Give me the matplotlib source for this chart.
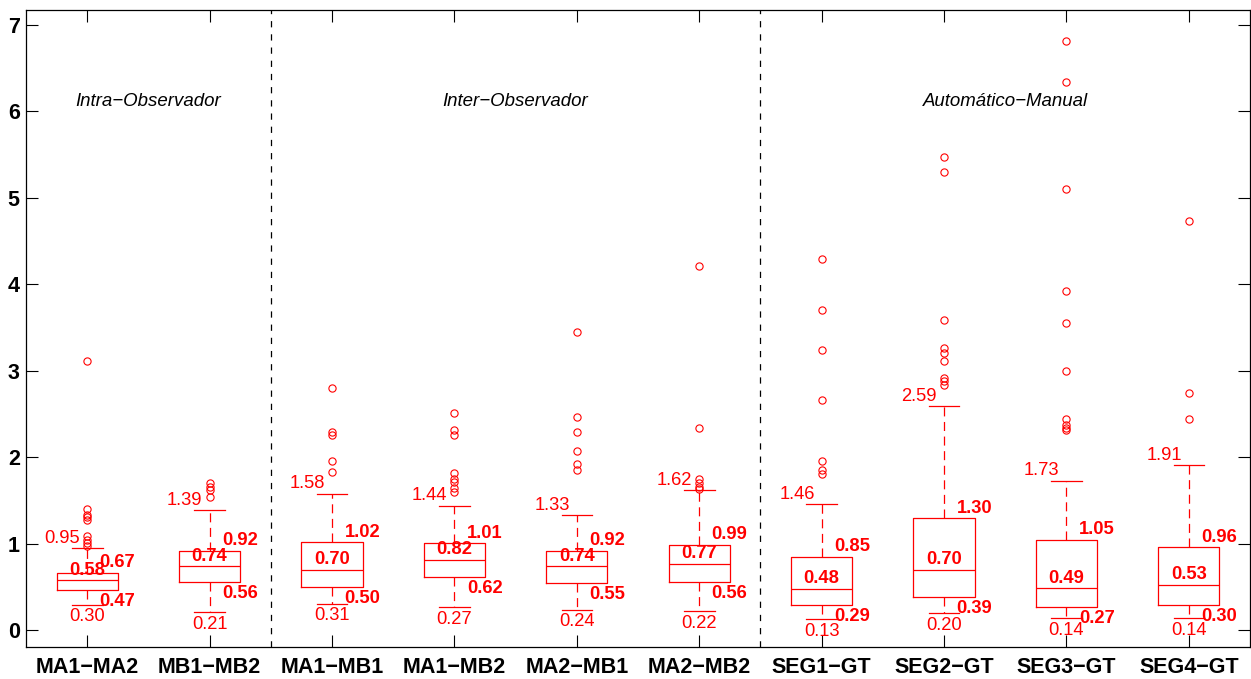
import matplotlib
matplotlib.use("Agg")
import matplotlib.pyplot as plt

plt.rcParams['font.family'] = ['Liberation Sans', 'DejaVu Sans']
plt.rcParams['lines.scale_dashes'] = False

# Comparison pairs
names = ['MA1\u2212MA2', 'MB1\u2212MB2', 'MA1\u2212MB1', 'MA1\u2212MB2', 'MA2\u2212MB1',
         'MA2\u2212MB2', 'SEG1\u2212GT', 'SEG2\u2212GT', 'SEG3\u2212GT', 'SEG4\u2212GT']

# Box statistics per pair
whis_hi = [0.95, 1.39, 1.58, 1.44, 1.33, 1.62, 1.46, 2.59, 1.73, 1.91]
q3 = [0.67, 0.92, 1.02, 1.01, 0.92, 0.99, 0.85, 1.30, 1.05, 0.96]
medians = [0.58, 0.74, 0.70, 0.82, 0.74, 0.77, 0.48, 0.70, 0.49, 0.53]
q1 = [0.47, 0.56, 0.50, 0.62, 0.55, 0.56, 0.29, 0.39, 0.27, 0.30]
whis_lo = [0.30, 0.21, 0.31, 0.27, 0.24, 0.22, 0.13, 0.20, 0.14, 0.14]

# Outlying values per pair
outliers = [
    [3.12, 1.41, 1.34, 1.31, 1.28, 1.09, 1.05, 1.01, 0.98],
    [1.70, 1.66, 1.62, 1.54],
    [2.80, 2.30, 2.26, 1.96, 1.83],
    [2.51, 2.32, 2.26, 1.82, 1.75, 1.72, 1.65, 1.60],
    [3.45, 2.47, 2.30, 2.08, 1.93, 1.86],
    [4.21, 2.34, 1.75, 1.70, 1.66, 1.64],
    [4.30, 3.70, 3.24, 2.66, 1.96, 1.86, 1.81],
    [5.47, 5.30, 3.59, 3.27, 3.21, 3.12, 2.92, 2.88, 2.84],
    [6.82, 6.34, 5.10, 3.93, 3.55, 3.00, 2.44, 2.37, 2.34, 2.32],
    [4.73, 2.74, 2.44],
]

# Group headings and their centres
groups = ['Intra\u2212Observador', 'Inter\u2212Observador', 'Autom\u00e1tico\u2212Manual']
group_centers = [1.5, 4.5, 8.5]
group_bounds = [2.5, 6.5]

positions = list(range(1, len(names) + 1))

fig = plt.figure(figsize=(12.51, 6.79), dpi=100)
ax = fig.add_axes([26 / 1251, 32 / 679, 1224 / 1251, 637 / 679])

stats = []
for i, n in enumerate(names):
    stats.append(dict(label=n, med=medians[i], q1=q1[i], q3=q3[i],
                      whislo=whis_lo[i], whishi=whis_hi[i], fliers=outliers[i]))

red = '#ff0000'
ax.bxp(stats, positions=positions, widths=0.5, capwidths=0.25, showfliers=True,
       boxprops=dict(color=red, lw=0.9),
       whiskerprops=dict(color=red, lw=0.9, linestyle=(0, (6.5, 4))),
       capprops=dict(color=red, lw=0.9),
       medianprops=dict(color=red, lw=0.9),
       flierprops=dict(marker='o', markerfacecolor='none', markeredgecolor=red,
                       markersize=5.2, markeredgewidth=0.8, linestyle='none'))

# Value annotations around each box
fs = 13.2
for i, x in enumerate(positions):
    ax.annotate(f'{whis_hi[i]:.2f}', (x, whis_hi[i]), xytext=(-7, 10),
                textcoords='offset pixels', ha='right', va='center', color=red, fontsize=fs)
    ax.annotate(f'{whis_lo[i]:.2f}', (x, whis_lo[i]), xytext=(0, -12),
                textcoords='offset pixels', ha='center', va='center', color=red, fontsize=fs)
    ax.annotate(f'{q3[i]:.2f}', (x, q3[i]), xytext=(12.5, 10),
                textcoords='offset pixels', ha='left', va='center', color=red,
                fontsize=fs, fontweight='bold')
    ax.annotate(f'{medians[i]:.2f}', (x, medians[i]), xytext=(0, 10),
                textcoords='offset pixels', ha='center', va='center', color=red,
                fontsize=fs, fontweight='bold')
    ax.annotate(f'{q1[i]:.2f}', (x, q1[i]), xytext=(12.5, -11.5),
                textcoords='offset pixels', ha='left', va='center', color=red,
                fontsize=fs, fontweight='bold')

for b in group_bounds:
    ax.axvline(b, color='black', lw=0.9, linestyle=(0, (4.5, 5)))

for g, c in zip(groups, group_centers):
    ax.text(c, 6.11, g, ha='center', va='center', fontsize=13.4, style='italic')

ax.set_xlim(0.5, 10.5)
ax.set_ylim(-0.191, 7.173)
ax.set_xticks(positions)
ax.set_xticklabels(names)
ax.set_yticks(range(0, 8))
ax.tick_params(direction='in', length=8.6, width=0.8, top=True, right=True,
               labelsize=15.5, colors='black')
ax.tick_params(axis='x', pad=7.5)
ax.tick_params(axis='y', pad=4.5)
for lbl in ax.get_xticklabels() + ax.get_yticklabels():
    lbl.set_fontweight('bold')
for s in ax.spines.values():
    s.set_linewidth(0.9)

fig.savefig('out.png', dpi=100)
